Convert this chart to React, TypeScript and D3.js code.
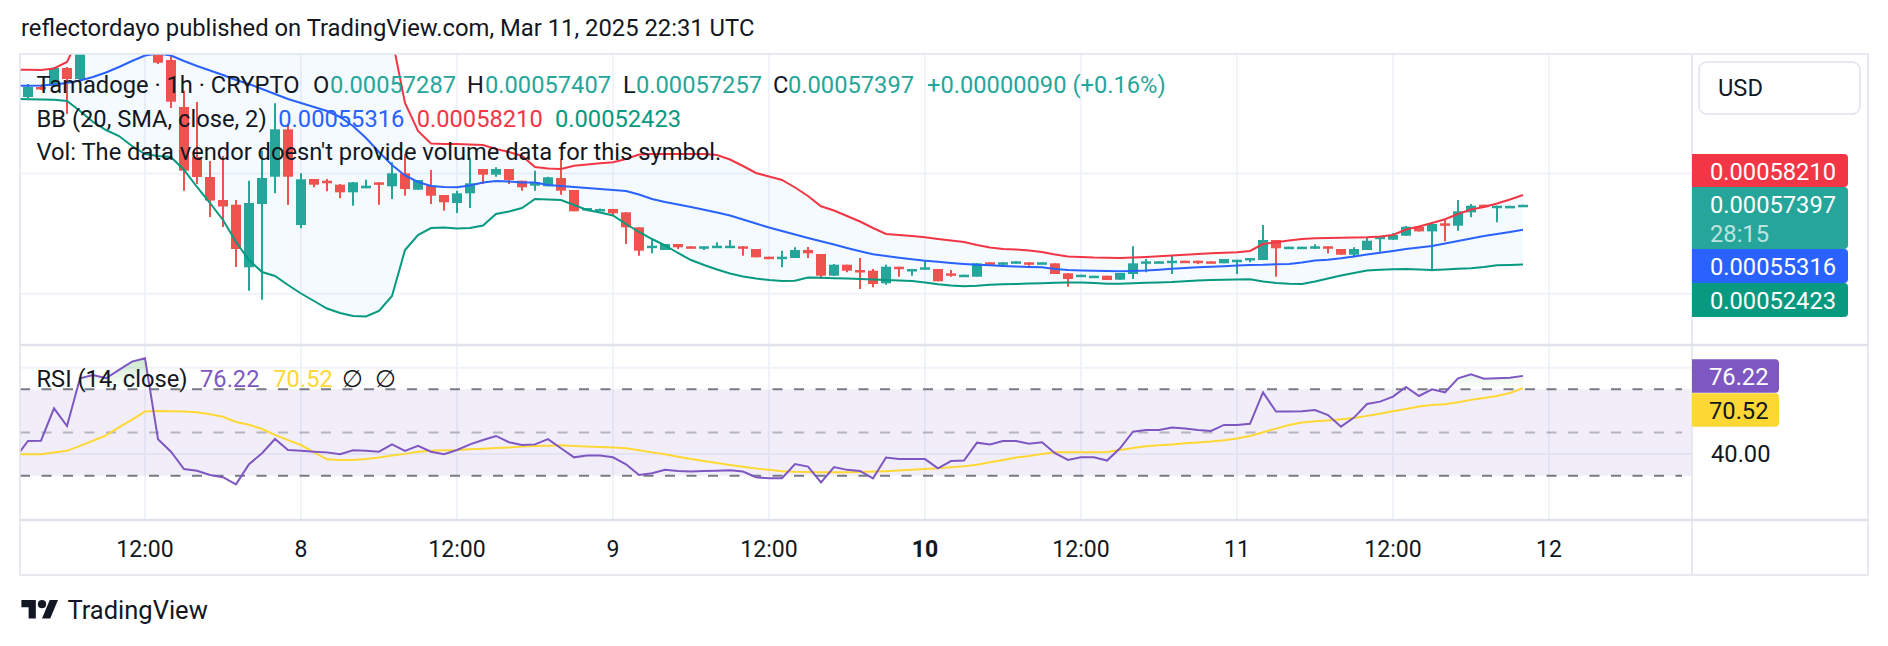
import React from "react";
import * as d3 from "d3";

// prices are stored in units of 0.00000001 USD
const P = 1e-8;
const HOUR = 3600 * 1000;
const barStart = Date.UTC(2025, 2, 7, 3); // first candle: Mar 7 03:00 UTC
const lineStart = Date.UTC(2025, 2, 7, 2); // first indicator point

// candles, Mar 7 03:00 -> Mar 11 22:00 (hourly), ten per row
const opens = [
  66365, 67197, 67300, 68777, 67862, 71500, 73500, 75000, 74000, 73000,
  72000, 69443, 65533, 61373, 59709, 57795, 57404, 52196, 57462, 59733,
  63677, 55715, 59542, 59401, 59068, 58435, 58769, 59267, 58935, 60017,
  58652, 58985, 58211, 57545, 58352, 60374, 59900, 60374, 59401, 58985,
  58935, 59625, 58627, 56963, 56921, 57046, 56771, 55524, 53860, 53635,
  54134, 53943, 53860, 53910, 53943, 53943, 53718, 53078, 53027, 52969,
  53635, 53302, 51497, 52412, 51971, 51913, 50864, 52245, 51971, 52055,
  52055, 51696, 51497, 51413, 52612, 52412, 52578, 52612, 52470, 52528,
  51696, 51413, 51362, 51497, 51164, 51638, 52528, 52553, 52578, 52745,
  52745, 52694, 52528, 52694, 52827, 52803, 54467, 53777, 53801, 53801,
  53943, 53718, 53244, 53635, 54608, 54492, 54825, 55574, 55184, 55857,
  55657, 56771, 57404, 57188, 57271, 57287,
];
const highs = [
  67446, 67363, 68860, 68861, 72000, 74000, 76000, 77000, 75500, 74000,
  72500, 69859, 66889, 65949, 61040, 61456, 57795, 59401, 61897, 65840,
  64202, 60016, 59542, 59542, 59126, 59293, 59484, 59267, 60932, 61622,
  59459, 60291, 58211, 58569, 61289, 60374, 60516, 60374, 59401, 60233,
  59733, 61206, 58627, 57129, 57088, 57046, 56771, 55524, 54550, 54134,
  54134, 53943, 53943, 54276, 54467, 53943, 53718, 53078, 53576, 53860,
  53893, 53302, 52470, 52412, 52969, 52054, 52412, 52245, 52055, 52745,
  52055, 51971, 51580, 52528, 52612, 52612, 52694, 52612, 52612, 52528,
  51696, 51580, 51497, 51497, 51722, 53943, 52886, 52694, 53161, 52745,
  52745, 52694, 52886, 52827, 52969, 55715, 54467, 53910, 53910, 54124,
  53943, 53718, 53860, 54633, 54742, 55019, 55632, 55574, 55798, 56156,
  57795, 57462, 57404, 57321, 57310, 57407,
];
const lows = [
  66282, 66947, 67200, 64950, 67600, 71000, 72800, 73500, 72000, 71000,
  69100, 65449, 58569, 59126, 56381, 55549, 52221, 50249, 49500, 58353,
  57379, 55440, 58852, 58519, 57937, 57321, 58769, 57404, 57878, 58153,
  58652, 57462, 56905, 56713, 57129, 59126, 59734, 59126, 58569, 58569,
  58935, 58236, 56855, 56963, 56905, 56489, 54134, 53161, 53360, 53635,
  53718, 53860, 53635, 53801, 53943, 53161, 53027, 52912, 52196, 52969,
  52969, 51223, 51472, 51780, 50390, 50532, 50748, 51413, 51497, 52055,
  51032, 51413, 51497, 51413, 52470, 52412, 52578, 52334, 52470, 51638,
  50582, 51413, 51362, 51139, 51164, 51222, 51780, 52553, 51638, 52578,
  52470, 52553, 52528, 51638, 52612, 52803, 51413, 53777, 53801, 53718,
  53361, 53244, 53027, 53635, 53494, 54492, 54825, 55184, 51862, 54359,
  55241, 56355, 57129, 55936, 57271, 57257,
];
const closes = [
  67197, 67114, 68780, 67862, 71500, 73500, 75000, 74000, 73000, 72000,
  69218, 65974, 60233, 59709, 57753, 57254, 53718, 57545, 59626, 63677,
  59733, 59517, 59068, 59185, 58435, 59267, 58985, 59068, 60017, 58710,
  59459, 58153, 57603, 58352, 59185, 59900, 60374, 59459, 58852, 59267,
  59684, 58569, 56855, 57129, 57046, 56688, 55524, 53577, 53993, 54134,
  53860, 53860, 53943, 53993, 53993, 53860, 53027, 52912, 53078, 53635,
  53361, 51497, 52412, 51913, 51863, 50806, 52245, 52055, 52055, 52196,
  51032, 51580, 51580, 52528, 52470, 52612, 52694, 52470, 52612, 51638,
  51222, 51580, 51497, 51139, 51722, 52528, 52694, 52694, 52745, 52578,
  52578, 52553, 52886, 52827, 52969, 54467, 53777, 53910, 53910, 53943,
  53801, 53244, 53718, 54409, 54742, 54883, 55574, 55184, 55798, 55742,
  56855, 57321, 57271, 57321, 57307, 57397,
];

// Bollinger Bands (20, SMA, close, 2), Mar 7 02:00 -> Mar 11 22:00
const bbUpper = [
  68636, 68636, 68611, 68736, 69277, 71523, 74000, 76000, 78000, 79500,
  80500, 81000, 81000, 80800, 80500, 80000, 79500, 79000, 78500, 78000,
  77500, 77000, 76500, 76000, 75500, 75000, 74200, 73000, 72000, 71274,
  65865, 63536, 62496, 62454, 62454, 62413, 62371, 62038, 61789, 61456,
  60541, 60416, 60374, 60649, 60749, 60849, 60932, 61206, 61581, 61622,
  61622, 61622, 61622, 61622, 61539, 61165, 60624, 60042, 59750, 59459,
  58835, 58128, 57271, 56921, 56464, 56006, 55466, 54966, 54883, 54800,
  54692, 54550, 54425, 54301, 54051, 53843, 53718, 53677, 53593, 53469,
  53261, 53095, 53053, 53011, 52995, 52970, 53011, 53053, 53111, 53178,
  53244, 53302, 53361, 53411, 53452, 53552, 54134, 54276, 54425, 54550,
  54608, 54633, 54658, 54675, 54692, 54758, 54883, 55341, 55591, 55882,
  56190, 56630, 57005, 57213, 57504, 57837, 58210,
];
const bbBasis = [
  67305, 67305, 67322, 67405, 67530, 67738, 68029, 68403, 68861, 69360,
  69818, 69990, 69818, 69360, 68944, 68570, 68195, 67779, 67446, 67030,
  66614, 66198, 65865, 65533, 65200, 64701, 63952, 62953, 61789, 60707,
  59834, 59293, 58960, 58877, 58852, 59002, 59251, 59376, 59334, 59251,
  59251, 59043, 58960, 58877, 58794, 58710, 58627, 58544, 58253, 57878,
  57629, 57421, 57213, 56980, 56755, 56505, 56172, 55840, 55507, 55216,
  54924, 54634, 54359, 54093, 53801, 53527, 53277, 53136, 52994, 52861,
  52745, 52653, 52553, 52470, 52404, 52362, 52303, 52262, 52221, 52196,
  52054, 51971, 51929, 51904, 51888, 51863, 51888, 51929, 51996, 52071,
  52137, 52196, 52245, 52287, 52337, 52387, 52404, 52445, 52470, 52595,
  52761, 52828, 52944, 53093, 53259, 53402, 53552, 53718, 53843, 53968,
  54176, 54383, 54591, 54799, 54966, 55133, 55316,
];
const bbLower = [
  66198, 66182, 66157, 66132, 66032, 65200, 64285, 63619, 63120, 62288,
  61622, 61456, 61373, 60291, 58877, 57546, 56131, 54301, 52803, 51805,
  51472, 50723, 50016, 49392, 48768, 48394, 48144, 48102, 48560, 49808,
  53635, 54883, 55466, 55507, 55424, 55466, 55674, 56631, 56839, 57130,
  57879, 57837, 57795, 57379, 56963, 56755, 56505, 55798, 55133, 54550,
  54010, 53386, 52803, 52387, 52013, 51680, 51431, 51264, 51139, 51056,
  51073, 51347, 51330, 51289, 51255, 51222, 51181, 51139, 51106, 51056,
  50931, 50781, 50682, 50615, 50657, 50740, 50781, 50806, 50840, 50865,
  50906, 50939, 50939, 50889, 50823, 50823, 50873, 50906, 50931, 50973,
  51039, 51097, 51139, 51156, 51181, 51197, 51014, 50889, 50823, 50806,
  51014, 51264, 51514, 51722, 51930, 51996, 52038, 52054, 52013, 51971,
  52013, 52071, 52121, 52221, 52370, 52387, 52423,
];

// RSI (14, close) and its moving average, Mar 7 02:00 -> Mar 11 22:00
const rsi = [
  38.1, 46.1, 46.2, 61.2, 53.0, 75.1, 76.6, 75.1, 79.0, 82.8,
  84.4, 46.9, 41.1, 33.1, 32.3, 30.3, 29.3, 26.0, 35.3, 40.4,
  47.0, 41.9, 41.5, 41.1, 40.8, 39.9, 41.8, 41.6, 41.1, 44.5,
  41.5, 43.8, 41.1, 39.9, 41.9, 44.5, 46.5, 48.4, 45.5, 44.2,
  44.5, 46.9, 42.7, 38.5, 39.3, 39.3, 38.5, 35.3, 30.3, 31.1,
  32.7, 32.2, 32.0, 32.2, 32.3, 32.5, 31.9, 29.3, 28.8, 28.8,
  35.4, 34.2, 26.9, 34.0, 32.7, 32.2, 28.8, 38.4, 37.7, 37.7,
  37.7, 33.4, 36.8, 37.0, 45.3, 44.5, 46.1, 46.1, 44.8, 45.5,
  40.4, 37.3, 38.5, 38.5, 37.0, 42.7, 50.4, 51.2, 51.2, 52.3,
  51.9, 51.2, 50.7, 53.5, 53.5, 54.0, 68.6, 59.7, 59.7, 59.8,
  60.4, 58.1, 52.7, 56.9, 63.2, 64.3, 66.6, 71.1, 66.9, 70.0,
  68.6, 75.1, 76.9, 74.9, 75.1, 75.4, 76.22,
];
const rsiMa = [
  39.9, 39.9, 39.9, 40.7, 41.5, 43.8, 46.2, 48.7, 52.4, 56.0,
  59.7, 60.0, 59.8, 59.7, 59.4, 58.4, 57.3, 54.9, 53.6, 51.6,
  48.9, 46.5, 44.2, 40.8, 37.6, 37.3, 37.3, 37.7, 38.4, 39.3,
  40.1, 41.1, 41.5, 41.8, 41.9, 42.2, 42.5, 42.8, 43.1, 43.5,
  43.7, 43.9, 44.1, 43.8, 43.5, 43.3, 43.1, 42.7, 41.8, 40.8,
  39.9, 38.8, 37.7, 36.8, 35.9, 35.0, 34.1, 33.3, 32.7, 32.1,
  31.8, 31.7, 31.6, 31.6, 31.6, 31.7, 31.9, 32.1, 32.4, 32.7,
  33.1, 33.4, 33.9, 34.4, 35.1, 36.2, 37.3, 38.4, 39.1, 40.1,
  40.8, 40.8, 40.8, 40.8, 41.0, 41.9, 42.8, 43.6, 44.1, 44.5,
  45.0, 45.4, 45.8, 46.4, 47.2, 48.4, 50.1, 51.8, 53.5, 54.6,
  55.2, 55.6, 56.1, 56.7, 57.7, 58.7, 59.8, 60.9, 62.0, 62.7,
  63.1, 64.0, 65.1, 66.0, 66.9, 68.3, 70.52,
];

const rsiLevels = [70, 50, 30];
const rsiGrid = [80, 40];
const priceGrid = [0.0005, 0.0006];
const priceChange = 0.0000009;
const priceChangePct = 0.16;
const countdown = "28:15";

const font = "Roboto, 'Noto Sans', sans-serif";
const ink = "#131722";
const upColor = "#26a69a";
const downColor = "#ef5350";
const border = "#e0e3eb";
const gridColor = "#f0f3fa";
const fs = 23.7;

const left = 20;
const paneRight = 1692;
const right = 1868;
const mainTop = 54;
const mainBottom = 345;
const rsiBottom = 520;
const axisBottom = 575;

const tagPath = (x0: number, y0: number, w: number, h: number, r: number) =>
  `M${x0},${y0}H${x0 + w - r}Q${x0 + w},${y0} ${x0 + w},${y0 + r}V${y0 + h - r}Q${x0 + w},${y0 + h} ${x0 + w - r},${y0 + h}H${x0}Z`;

export default function App() {
  const x = d3
    .scaleUtc()
    .domain([new Date(Date.UTC(2025, 2, 7, 0)), new Date(Date.UTC(2025, 2, 12, 11))])
    .range([-11, paneRight]);
  const y = d3.scaleLinear().domain([0.00045732, 0.00069942]).range([mainBottom, mainTop]);
  const yr = d3.scaleLinear().domain([9.49, 90.51]).range([rsiBottom, mainBottom]);
  const fmt = d3.format(".8f");

  const lx = (i: number) => x(new Date(lineStart + i * HOUR));
  const cx = (i: number) => x(new Date(barStart + i * HOUR));

  const priceLine = d3.line<number>().x((_, i) => lx(i)).y((v) => y(v * P));
  const bandArea = d3
    .area<number>()
    .x((_, i) => lx(i))
    .y0((_, i) => y(bbLower[i] * P))
    .y1((v) => y(v * P));
  const rsiPath = d3.line<number>().x((_, i) => lx(i)).y((v) => yr(v));
  const obArea = d3.area<number>().x((_, i) => lx(i)).y0(yr(70)).y1((v) => yr(v));

  const ticks = x
    .ticks(d3.utcHour.every(12)!)
    .filter((t) => x(t) > left && x(t) < paneRight);

  const bodyW = 10;
  const last = bbUpper.length - 1;

  // price-axis tags, stacked from the upper band down
  const tags = [
    { v: bbUpper[last] * P, color: "#F23645", h: 33 },
    { v: closes[closes.length - 1] * P, color: upColor, h: 62, sub: countdown },
    { v: bbBasis[last] * P, color: "#2962FF", h: 34 },
    { v: bbLower[last] * P, color: "#089981", h: 34 },
  ];
  let tagTop = y(tags[0].v) - 41;
  const placed = tags.map((t) => {
    const top = tagTop;
    tagTop += t.h;
    return { ...t, top };
  });

  const rsiLast = rsi[rsi.length - 1];
  const maLast = rsiMa[rsiMa.length - 1];
  const rsiTagTop = yr(rsiLast) - 16.5;

  const ohlc = [
    { k: "O", v: opens[opens.length - 1], kx: 313, vx: 330 },
    { k: "H", v: highs[highs.length - 1], kx: 467, vx: 485 },
    { k: "L", v: lows[lows.length - 1], kx: 623, vx: 636 },
    { k: "C", v: closes[closes.length - 1], kx: 773, vx: 788 },
  ];

  return (
    <svg
      width={1888}
      height={646}
      style={{ position: "absolute", left: 0, top: 0, background: "#fff" }}
      fontFamily={font}
    >
      <defs>
        <clipPath id="mainClip">
          <rect x={left} y={mainTop} width={paneRight - left} height={mainBottom - mainTop} />
        </clipPath>
        <clipPath id="rsiClip">
          <rect x={left} y={mainBottom} width={paneRight - left} height={rsiBottom - mainBottom} />
        </clipPath>
        <clipPath id="obClip">
          <rect x={left} y={mainBottom} width={paneRight - left} height={yr(70) - mainBottom} />
        </clipPath>
        <linearGradient id="obGrad" gradientUnits="userSpaceOnUse" x1={0} x2={0} y1={yr(100)} y2={yr(70)}>
          <stop offset="0" stopColor="#4caf50" stopOpacity={0.6} />
          <stop offset="1" stopColor="#4caf50" stopOpacity={0} />
        </linearGradient>
      </defs>

      <text x={21} y={36} fontSize={23.8} fill={ink}>
        reflectordayo published on TradingView.com, Mar 11, 2025 22:31 UTC
      </text>

      {/* grid */}
      {ticks.map((t) => (
        <line key={+t} x1={x(t)} x2={x(t)} y1={mainTop} y2={rsiBottom} stroke={gridColor} strokeWidth={2} />
      ))}
      {priceGrid.map((g) => (
        <line key={g} x1={left} x2={paneRight} y1={y(g)} y2={y(g)} stroke={gridColor} strokeWidth={2} />
      ))}
      {rsiGrid.map((g) => (
        <line key={g} x1={left} x2={paneRight} y1={yr(g)} y2={yr(g)} stroke={gridColor} strokeWidth={2} />
      ))}

      {/* main pane */}
      <g clipPath="url(#mainClip)">
        <path d={bandArea(bbUpper) || ""} fill="#2196f3" fillOpacity={0.05} />
        {opens.map((o, i) => {
          const c = closes[i];
          const color = c >= o ? upColor : downColor;
          const top = y(Math.max(o, c) * P);
          const h = Math.max(2.5, y(Math.min(o, c) * P) - top);
          const xc = cx(i);
          return (
            <g key={i} fill={color} stroke={color}>
              <line x1={xc} x2={xc} y1={y(highs[i] * P)} y2={y(lows[i] * P)} strokeWidth={2} />
              <rect x={xc - bodyW / 2} y={top} width={bodyW} height={h} stroke="none" />
            </g>
          );
        })}
        <path d={priceLine(bbUpper) || ""} fill="none" stroke="#F23645" strokeWidth={2} />
        <path d={priceLine(bbLower) || ""} fill="none" stroke="#089981" strokeWidth={2} />
        <path d={priceLine(bbBasis) || ""} fill="none" stroke="#2962FF" strokeWidth={2} />
      </g>

      {/* rsi pane */}
      <g clipPath="url(#rsiClip)">
        <rect x={left} y={yr(70)} width={paneRight - left} height={yr(30) - yr(70)} fill="#7e57c2" fillOpacity={0.1} />
        {rsiLevels.map((lv) => (
          <line
            key={lv}
            x1={left}
            x2={paneRight - 10}
            y1={yr(lv)}
            y2={yr(lv)}
            stroke="#787b86"
            strokeOpacity={lv === 50 ? 0.5 : 1}
            strokeWidth={2}
            strokeDasharray="10 11.5"
          />
        ))}
        <path d={obArea(rsi) || ""} fill="url(#obGrad)" clipPath="url(#obClip)" />
        <path d={rsiPath(rsiMa) || ""} fill="none" stroke="#fdd835" strokeWidth={2} />
        <path d={rsiPath(rsi) || ""} fill="none" stroke="#7e57c2" strokeWidth={2} />
      </g>

      {/* frame */}
      <rect x={left} y={mainTop} width={right - left} height={axisBottom - mainTop} fill="none" stroke={border} strokeWidth={1.5} />
      <line x1={left} x2={right} y1={mainBottom} y2={mainBottom} stroke={border} strokeWidth={2.5} />
      <line x1={left} x2={right} y1={rsiBottom} y2={rsiBottom} stroke={border} strokeWidth={2.5} />
      <line x1={paneRight} x2={paneRight} y1={mainTop} y2={axisBottom} stroke={border} strokeWidth={1.5} />

      {/* legends */}
      <g fontSize={fs} fill={ink}>
        <text x={36.5} y={92.5}>Tamadoge · 1h · CRYPTO</text>
        {ohlc.map((d) => (
          <g key={d.k}>
            <text x={d.kx} y={92.5}>{d.k}</text>
            <text x={d.vx} y={92.5} fill={upColor}>{fmt(d.v * P)}</text>
          </g>
        ))}
        <text x={927} y={92.5} fill={upColor}>
          {`+${fmt(priceChange)} (+${priceChangePct.toFixed(2)}%)`}
        </text>
        <text x={36.5} y={126.7}>BB (20, SMA, close, 2)</text>
        <text x={278.3} y={126.7} fill="#2962FF">{fmt(bbBasis[last] * P)}</text>
        <text x={416.7} y={126.7} fill="#F23645">{fmt(bbUpper[last] * P)}</text>
        <text x={555} y={126.7} fill="#089981">{fmt(bbLower[last] * P)}</text>
        <text x={36.5} y={160}>Vol: The data vendor doesn't provide volume data for this symbol.</text>
        <text x={36.5} y={386.5}>RSI (14, close)</text>
        <text x={200} y={386.5} fill="#7e57c2">{rsiLast.toFixed(2)}</text>
        <text x={273.3} y={386.5} fill="#fdd835">{maLast.toFixed(2)}</text>
        <text x={341.7} y={386.5}>∅</text>
        <text x={375} y={386.5}>∅</text>
      </g>

      {/* price axis */}
      <rect x={1699} y={62} width={161} height={52} rx={8} fill="#fff" stroke={border} strokeWidth={1.5} />
      <text x={1718} y={95.5} fontSize={fs} fill={ink}>USD</text>
      {placed.map((t, i) => (
        <g key={i}>
          <path d={tagPath(paneRight, t.top, 156, t.h, 4)} fill={t.color} />
          <text x={1710} y={t.top + 25.8} fontSize={fs} fill="#fff">{fmt(t.v)}</text>
          {t.sub && (
            <text x={1710} y={t.top + 54.7} fontSize={fs} fill="#fff" fillOpacity={0.7}>{t.sub}</text>
          )}
        </g>
      ))}
      <path d={tagPath(paneRight, rsiTagTop, 87, 33.5, 4)} fill="#7e57c2" />
      <text x={1709} y={rsiTagTop + 25.5} fontSize={fs} fill="#fff">{rsiLast.toFixed(2)}</text>
      <path d={tagPath(paneRight, rsiTagTop + 34, 87, 33.5, 4)} fill="#fdd835" />
      <text x={1709} y={rsiTagTop + 34 + 25.5} fontSize={fs} fill={ink}>{maLast.toFixed(2)}</text>
      <text x={1711} y={yr(40) + 8} fontSize={fs} fill={ink}>{(40).toFixed(2)}</text>

      {/* time axis */}
      {ticks.map((t) => {
        const noon = t.getUTCHours() === 12;
        const bold = !noon && t.getUTCDay() === 1;
        return (
          <text
            key={+t}
            x={x(t)}
            y={557}
            fontSize={23}
            textAnchor="middle"
            fill={ink}
            fontWeight={bold ? 700 : 400}
          >
            {noon ? "12:00" : String(t.getUTCDate())}
          </text>
        );
      })}

      {/* logo */}
      <g transform="translate(21.4,595.9) scale(1.03)" fill={ink}>
        <path d="M14 22H7V11H0V4h14v18zM28 22h-8l7.5-18h8L28 22z" />
        <circle cx={20} cy={8} r={4} />
      </g>
      <text x={67.4} y={618.5} fontSize={25.5} fill={ink}>TradingView</text>
    </svg>
  );
}
